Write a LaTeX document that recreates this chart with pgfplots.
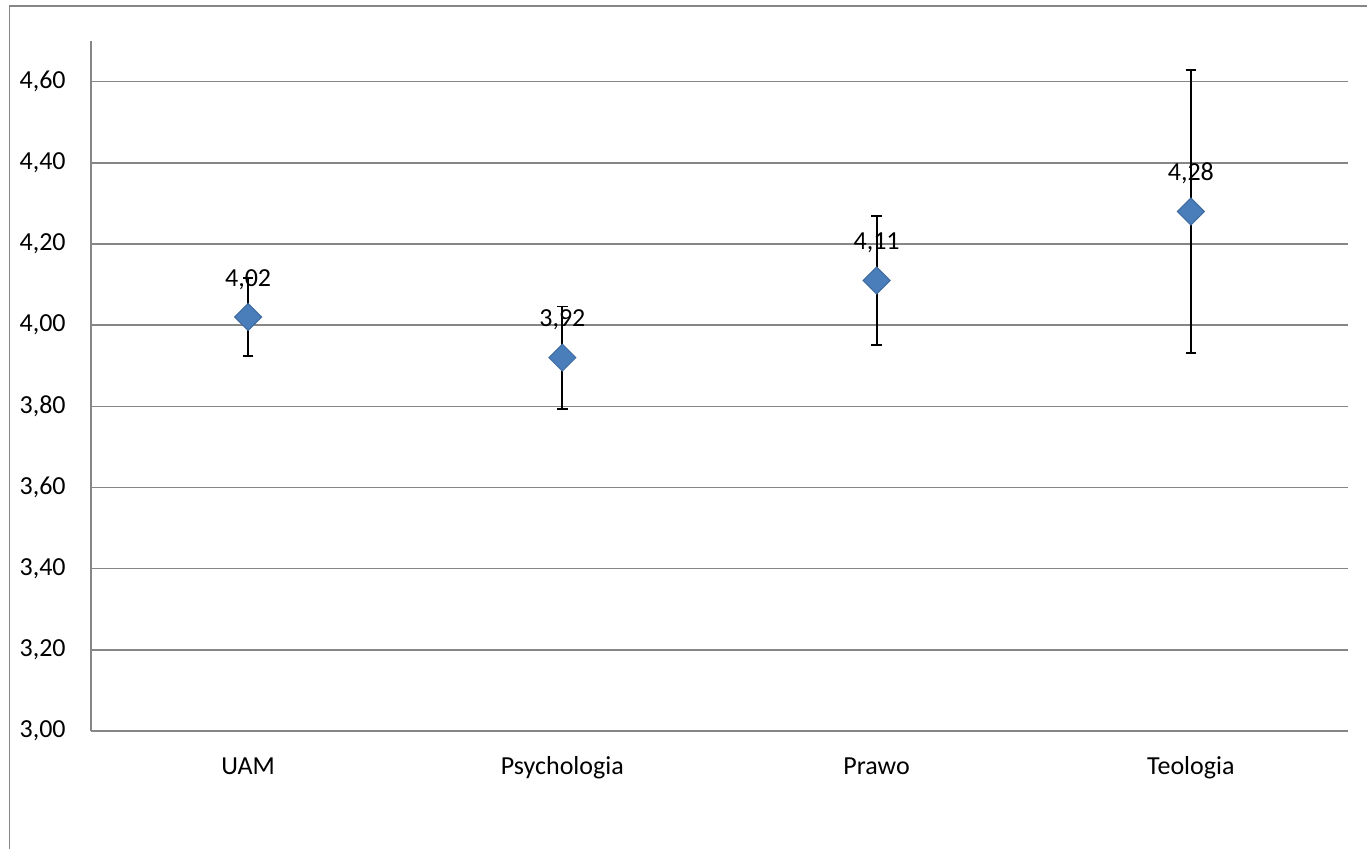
\documentclass[border=0pt]{standalone}
\usepackage{pgfplots}
\pgfplotsset{compat=1.18}
\usepackage{fontspec}
\setmainfont{Carlito}
\definecolor{gridgray}{RGB}{134,134,134}
\definecolor{markblue}{RGB}{74,126,187}
\begin{document}
\begin{tikzpicture}[x=1pt,y=1pt]
\useasboundingbox (-45.5,-58.5) rectangle (638,365.5);
\begin{scope}
\clip (-45.5,-58.5) rectangle (638,365.5);
\draw[gridgray, line width=0.9pt] (-40.75,-80) rectangle (660,362.5);
\end{scope}
\begin{axis}[
  at={(0,0)}, anchor=south west,
  scale only axis, width=628.5pt, height=345pt,
  xmin=-0.5, xmax=3.5, ymin=3, ymax=4.7,
  xtick={0,1,2,3}, xticklabels={UAM,Psychologia,Prawo,Teologia},
  ytick={3,3.2,3.4,3.6,3.8,4.0,4.2,4.4,4.6},
  axis lines*=left,
  axis line style={gridgray, line width=0.75pt},
  ymajorgrids, grid style={gridgray, line width=0.75pt},
  major tick length=0pt, tick style={draw=none},
  tick label style={font=\fontsize{13}{15}\selectfont, black},
  yticklabel style={anchor=east, inner sep=0pt, xshift=-12.5pt,
    /pgf/number format/.cd, fixed, fixed zerofill, precision=2, use comma, assume math mode=true},
  xticklabel style={anchor=base, inner sep=0pt, yshift=-21.5pt},
  clip=false,
]
\addplot[only marks, mark=square*, mark size=4.77pt,
  mark options={rotate=45, fill=markblue, draw=markblue!85!black, line width=0.5pt},
  error bars/.cd, y dir=both, y explicit,
  error mark=|, error mark options={black, line width=0.9pt, mark size=2.6pt},
  error bar style={black, line width=0.9pt}]
  table[x=x, y=y, y error=err] {
x y err
0 4.02 0.097
1 3.92 0.126
2 4.11 0.159
3 4.28 0.349
};
\addplot[only marks, mark=none,
  point meta=explicit symbolic,
  nodes near coords,
  every node near coord/.append style={anchor=base, yshift=15.5pt, inner sep=0pt, font=\fontsize{13}{15}\selectfont, black}]
  table[x=x, y=y, meta=label] {
x y label
0 4.02 4,02
1 3.92 3,92
2 4.11 4,11
3 4.28 4,28
};
\end{axis}
\end{tikzpicture}
\end{document}
